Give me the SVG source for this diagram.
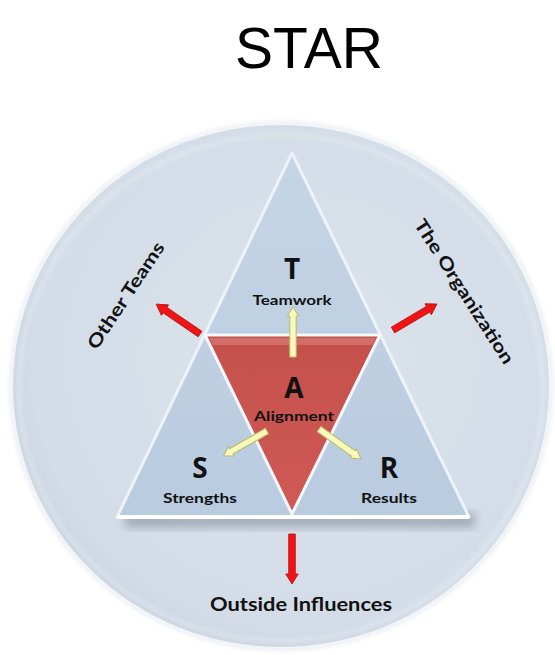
<svg xmlns="http://www.w3.org/2000/svg" width="555" height="655" viewBox="0 0 555 655">
<style>
.lbl{font-family:Lato,"Open Sans","Liberation Sans",sans-serif;font-weight:bold;fill:#111;text-anchor:middle}
.big{font-family:"Open Sans",Lato,"Liberation Sans",sans-serif;font-weight:bold;fill:#111;text-anchor:middle}
.title{font-family:"Liberation Sans",Arial,sans-serif;fill:#000;text-anchor:middle}
.red{fill:#f01414;stroke:#b80e0e;stroke-width:0.8}
.yel{fill:#f8f8bc;stroke:#b9b96a;stroke-width:1}
</style>
<defs>
<radialGradient id="disc" cx="0.55" cy="0.45" r="0.6">
<stop offset="0" stop-color="#dce3ec"/>
<stop offset="0.85" stop-color="#d3dce7"/>
<stop offset="1" stop-color="#c9d2de"/>
</radialGradient>
<linearGradient id="tri" x1="0" y1="0" x2="0" y2="1">
<stop offset="0" stop-color="#c6d5e6"/>
<stop offset="1" stop-color="#b9cbdf"/>
</linearGradient>
<linearGradient id="redg" x1="0" y1="0" x2="0" y2="1">
<stop offset="0" stop-color="#c4504c"/>
<stop offset="1" stop-color="#d05a55"/>
</linearGradient>
<filter id="sh" x="-20%" y="-20%" width="140%" height="140%">
<feGaussianBlur stdDeviation="5"/>
</filter>
<filter id="soft" x="-10%" y="-10%" width="120%" height="120%">
<feGaussianBlur stdDeviation="2"/>
</filter>
<path id="ya" d="M0,-3.2 L41,-3.2 L41,-5.5 L50,0 L41,5.5 L41,3.2 L0,3.2 Z"/>
<path id="ra" d="M0,-3.3 L40,-3.3 L40,-6.3 L50,0 L40,6.3 L40,3.3 L0,3.3 Z"/>
</defs>
<rect width="555" height="655" fill="#ffffff"/>
<text class="title" x="309" y="68" font-size="57">STAR</text>
<g id="disc-bg">
<ellipse cx="281" cy="386" rx="270" ry="263" fill="none" stroke="#e3e8ee" stroke-width="3" filter="url(#soft)"/>
<ellipse cx="281" cy="386" rx="268" ry="261" fill="url(#disc)"/>
<ellipse cx="281" cy="388" rx="262" ry="253" fill="none" stroke="#e6ecf3" stroke-width="3" opacity="0.7" filter="url(#soft)"/>
</g>
<g id="triangle-frame">
<rect x="125" y="512" width="350" height="16" fill="#7d8794" opacity="0.55" filter="url(#sh)"/>
<polygon points="292,153 469,517 117,517" fill="url(#tri)" stroke="#eef3f9" stroke-width="3" stroke-linejoin="round"/>
<polyline points="117,517 469,517" fill="none" stroke="#ffffff" stroke-width="4"/>
</g>
<g id="node-A">
<polygon points="205,335 380,335 292,514" fill="url(#redg)" stroke="#f5f8fb" stroke-width="3" stroke-linejoin="round"/>
<polygon points="209,338 376,338 372,345 213,345" fill="#d97a74" opacity="0.7"/>
<text class="big" x="294" y="398" font-size="28">A</text>
<text class="lbl" x="294" y="421" font-size="14" textLength="80" lengthAdjust="spacingAndGlyphs">Alignment</text>
</g>
<g id="node-T">
<text class="big" x="292" y="279" font-size="28">T</text>
<text class="lbl" x="292" y="305" font-size="14" textLength="79" lengthAdjust="spacingAndGlyphs">Teamwork</text>
</g>
<g id="node-S">
<text class="big" x="200" y="478" font-size="28">S</text>
<text class="lbl" x="200" y="503" font-size="14" textLength="74" lengthAdjust="spacingAndGlyphs">Strengths</text>
</g>
<g id="node-R">
<text class="big" x="389" y="478" font-size="28">R</text>
<text class="lbl" x="389" y="503" font-size="14" textLength="56" lengthAdjust="spacingAndGlyphs">Results</text>
</g>
<g id="node-other-teams">
<text class="lbl" font-size="18" transform="translate(131,299) rotate(-56.5)" textLength="124" lengthAdjust="spacingAndGlyphs">Other Teams</text>
</g>
<g id="node-organization">
<text class="lbl" font-size="18" transform="translate(459,295) rotate(57.3)" textLength="168" lengthAdjust="spacingAndGlyphs">The Organization</text>
</g>
<g id="node-outside">
<text class="lbl" x="301" y="611" font-size="19" textLength="182" lengthAdjust="spacingAndGlyphs">Outside Influences</text>
</g>
<g id="connectors">
<use href="#ra" class="red" transform="translate(200,334) rotate(-145.7) scale(1.06,1)"/>
<use href="#ra" class="red" transform="translate(393,330) rotate(-30.6) scale(1.02,1)"/>
<use href="#ra" class="red" transform="translate(292,534) rotate(90)"/>
<use href="#ya" class="yel" transform="translate(293,357) rotate(-90)"/>
<use href="#ya" class="yel" transform="translate(267,431) rotate(150.4)"/>
<use href="#ya" class="yel" transform="translate(319,429) rotate(35.5) scale(1.03,1)"/>
</g>
</svg>
